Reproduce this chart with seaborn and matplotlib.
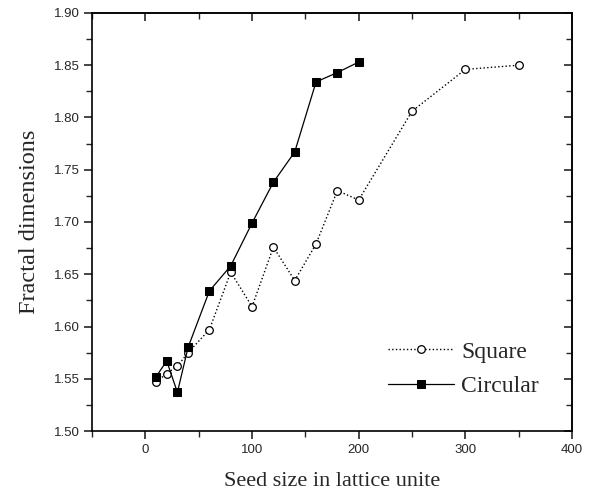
import numpy as np
import pandas as pd
import seaborn as sns
import matplotlib.pyplot as plt
from matplotlib.ticker import MultipleLocator

# Values
square_x = [10, 20, 30, 40, 60, 80, 100, 120, 140, 160, 180, 200, 250, 300, 350]
square_y = [1.547, 1.555, 1.562, 1.575, 1.597, 1.652, 1.619, 1.676, 1.644,
            1.679, 1.730, 1.721, 1.806, 1.846, 1.850]
circular_x = [10, 20, 30, 40, 60, 80, 100, 120, 140, 160, 180, 200]
circular_y = [1.552, 1.567, 1.537, 1.580, 1.634, 1.658, 1.699, 1.738, 1.767,
              1.834, 1.843, 1.853]

sns.set_theme(style="ticks")
plt.rcParams['font.family'] = ['Liberation Serif', 'DejaVu Serif']

fig = plt.figure(figsize=(5.94, 4.98), dpi=100)
ax = fig.add_axes([0.155, 0.1345, 0.808, 0.8395])

sq = pd.DataFrame({'x': square_x, 'y': square_y})
ci = pd.DataFrame({'x': circular_x, 'y': circular_y})

sns.lineplot(data=sq, x='x', y='y', ax=ax, color='black', linestyle=':',
             linewidth=1.0, marker='o', markersize=5.5, markerfacecolor='white',
             markeredgecolor='black', markeredgewidth=0.9, label='Square')
sns.lineplot(data=ci, x='x', y='y', ax=ax, color='black', linestyle='-',
             linewidth=0.9, marker='s', markersize=6, markerfacecolor='black',
             markeredgecolor='black', label='Circular')

ax.set_xlim(-50, 400)
ax.set_ylim(1.50, 1.90)
ax.xaxis.set_major_locator(MultipleLocator(100))
ax.xaxis.set_minor_locator(MultipleLocator(50))
ax.yaxis.set_major_locator(MultipleLocator(0.05))
ax.yaxis.set_minor_locator(MultipleLocator(0.025))
ax.yaxis.set_major_formatter(plt.FormatStrFormatter('%.2f'))

tick_font = ['Liberation Sans Narrow', 'DejaVu Sans Condensed', 'Liberation Sans']
ax.tick_params(which='major', direction='out', length=6, width=1.2, labelsize=9.5, pad=3)
ax.tick_params(which='minor', direction='out', length=4, width=1.0)
for lab in ax.get_xticklabels() + ax.get_yticklabels():
    lab.set_family(tick_font)

for side in ['top', 'right']:
    ax.spines[side].set_visible(True)
for sp in ax.spines.values():
    sp.set_linewidth(1.2)
    sp.set_color('black')

# mirrored ticks pointing inward on top and right
top = ax.secondary_xaxis('top')
top.xaxis.set_major_locator(MultipleLocator(100))
top.xaxis.set_minor_locator(MultipleLocator(50))
top.tick_params(which='major', direction='in', length=6, width=1.2, labeltop=False)
top.tick_params(which='minor', direction='in', length=4, width=1.0)
right = ax.secondary_yaxis('right')
right.yaxis.set_major_locator(MultipleLocator(0.05))
right.yaxis.set_minor_locator(MultipleLocator(0.025))
right.tick_params(which='major', direction='in', length=6, width=1.2, labelright=False)
right.tick_params(which='minor', direction='in', length=4, width=1.0)

ax.set_xlabel('Seed size in lattice unite', fontsize=16, labelpad=12)
ax.set_ylabel('Fractal dimensions', fontsize=17.5, labelpad=10)

ax.legend(loc='lower right', bbox_to_anchor=(0.975, 0.03), frameon=False,
          fontsize=17, handlelength=2.8, handletextpad=0.3, labelspacing=0.55)

fig.savefig('out.png', dpi=100)
